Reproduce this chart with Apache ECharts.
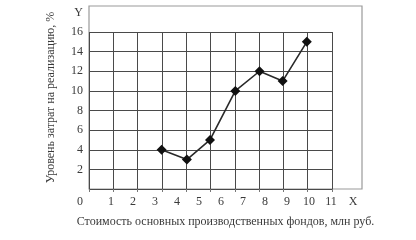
<!DOCTYPE html>
<html>
<head>
<meta charset="utf-8">
<script src="https://cdn.jsdelivr.net/npm/echarts@6/dist/echarts.min.js"></script>
<style>html,body{margin:0;padding:0;background:#fff}#c{width:416px;height:240px}</style>
</head>
<body>
<div id="c"></div>
<script>
// Data (x in units of the axis labels)
const xValues = [3.3, 4.45, 5.5, 6.65, 7.75, 8.8, 9.9];
const yValues = [4, 3, 5, 10, 12, 11, 15];
// Tick labels
const xTickLabels = ['0', '1', '2', '3', '4', '5', '6', '7', '8', '9', '10', '11', 'X'];
const yTickLabels = ['', '2', '4', '6', '8', '10', '12', '14', '16', 'Y'];
const xTitle = 'Стоимость основных производственных фондов, млн руб.';
const yTitle = 'Уровень затрат на реализацию, %';
// grid-line counts
const gridXMax = 10;
const gridYMax = 16;

const FONT = 'Liberation Serif';
const chart = echarts.init(document.getElementById('c'), null, {renderer: 'canvas'});

const boxW = 273, boxH = 183, unitX = 22, unitY = 9.8125;

chart.setOption({
  animation: false,
  backgroundColor: '#fff',
  grid: [
    {left: 89, top: 6, width: boxW, height: boxH, show: true, borderColor: '#9a9a9a', borderWidth: 1.2, backgroundColor: 'transparent'},
    {left: 89, top: 6 + boxH - gridYMax * unitY, width: gridXMax * 24.3, height: gridYMax * unitY}
  ],
  xAxis: [
    {
      type: 'value', gridIndex: 0, min: 0, max: boxW / unitX, interval: 1,
      axisLine: {show: false}, axisTick: {show: false}, splitLine: {show: false},
      axisLabel: {
        margin: 7, color: '#3a3a3a', fontFamily: FONT, fontSize: 12,
        formatter: function (v) {
          if (Math.abs(v - Math.round(v)) > 1e-6) return '';
          const i = Math.round(v);
          if (i === 0) return '{z|' + xTickLabels[0] + '}';
          return xTickLabels[i] !== undefined ? xTickLabels[i] : '';
        },
        rich: {z: {padding: [0, 18, 0, 0], color: '#3a3a3a', fontFamily: FONT, fontSize: 12}}
      },
      name: xTitle, nameLocation: 'middle', nameGap: 27,
      nameTextStyle: {color: '#3a3a3a', fontFamily: FONT, fontSize: 12}
    },
    {
      type: 'value', gridIndex: 1, min: 0, max: gridXMax, interval: 1,
      axisLine: {show: false},
      axisTick: {show: true, length: 3, lineStyle: {color: '#777'}},
      axisLabel: {show: false},
      splitLine: {show: true, lineStyle: {color: '#4a4a4a', width: 1}}
    }
  ],
  yAxis: [
    {
      type: 'value', gridIndex: 0, min: 0, max: boxH / unitY, interval: 2,
      axisLine: {show: false}, axisTick: {show: false}, splitLine: {show: false},
      axisLabel: {
        margin: 6, color: '#3a3a3a', fontFamily: FONT, fontSize: 12,
        formatter: function (v) {
          if (Math.abs(v / 2 - Math.round(v / 2)) > 1e-6) return '';
          const i = Math.round(v / 2);
          return yTickLabels[i] !== undefined ? yTickLabels[i] : '';
        }
      },
      name: yTitle, nameLocation: 'middle', nameGap: 32, nameRotate: 90,
      nameTextStyle: {color: '#3a3a3a', fontFamily: FONT, fontSize: 12}
    },
    {
      type: 'value', gridIndex: 1, min: 0, max: gridYMax, interval: 2,
      axisLine: {show: false}, axisTick: {show: false}, axisLabel: {show: false},
      splitLine: {show: true, lineStyle: {color: '#4a4a4a', width: 1}}
    }
  ],
  series: [{
    type: 'line', xAxisIndex: 0, yAxisIndex: 0,
    data: xValues.map((x, i) => [x, yValues[i]]),
    symbol: 'diamond', symbolSize: 10,
    itemStyle: {color: '#111'},
    lineStyle: {color: '#2a2a2a', width: 1.6}
  }]
});
</script>
</body>
</html>
